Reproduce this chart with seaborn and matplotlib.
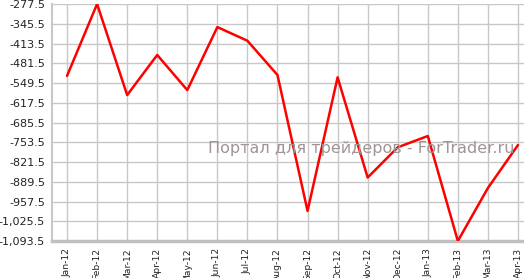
import matplotlib
matplotlib.use("Agg")
import matplotlib.pyplot as plt
import seaborn as sns
import pandas as pd
import numpy as np
from matplotlib.ticker import FuncFormatter

months = ["Jan-12", "Feb-12", "Mar-12", "Apr-12", "May-12", "Jun-12", "Jul-12", "Aug-12",
          "Sep-12", "Oct-12", "Nov-12", "Dec-12", "Jan-13", "Feb-13", "Mar-13", "Apr-13"]
values = [-525.0, -277.5, -591.0, -453.0, -574.0, -357.0, -404.0, -522.0,
          -990.0, -530.0, -875.0, -771.0, -732.0, -1093.5, -911.0, -763.0]
yticks = [-277.5 - 68 * i for i in range(13)]

sns.set_style("white")
plt.rcParams['font.family'] = ['DejaVu Sans']

fig = plt.figure(figsize=(5.24, 2.78), dpi=100)
ax = fig.add_axes([52 / 524, (278 - 241) / 278, 1 - 52 / 524, (241 - 4) / 278])

df = pd.DataFrame({"month": months, "value": values, "idx": np.arange(len(months))})
sns.lineplot(data=df, x="idx", y="value", ax=ax, color="#ff0000", linewidth=1.8, sort=False, zorder=3)

ax.set_xlim(-0.5, 15.2)
ax.set_ylim(-1093.5, -277.5)
ax.set_xticks(df["idx"])
ax.set_xticklabels(months, rotation=90, fontsize=6.6, color="#222222")
ax.set_yticks(yticks)
ax.yaxis.set_major_formatter(FuncFormatter(lambda v, p: f"{v:,.1f}"))
ax.tick_params(axis="y", labelsize=8, colors="#c0c0c0", labelcolor="#222222", length=4, width=1, pad=1)
ax.tick_params(axis="x", colors="#c0c0c0", labelcolor="#222222", length=4, width=1, pad=1)
ax.grid(True, color="#c8c8c8", linewidth=1)
ax.set_axisbelow(True)
ax.set_xlabel("")
ax.set_ylabel("")
for s in ["top", "right"]:
    ax.spines[s].set_visible(False)
ax.spines["left"].set_color("#c8c8c8")
ax.spines["left"].set_linewidth(1.5)
ax.spines["bottom"].set_color("#c0c0c0")
ax.spines["bottom"].set_linewidth(2.5)

fig.text(208 / 524, 1 - 149 / 278, "Портал для трейдеров - ForTrader.ru", fontsize=11.5,
         color="#a09494", va="center", ha="left", zorder=2)

fig.savefig("out.png", dpi=100)
